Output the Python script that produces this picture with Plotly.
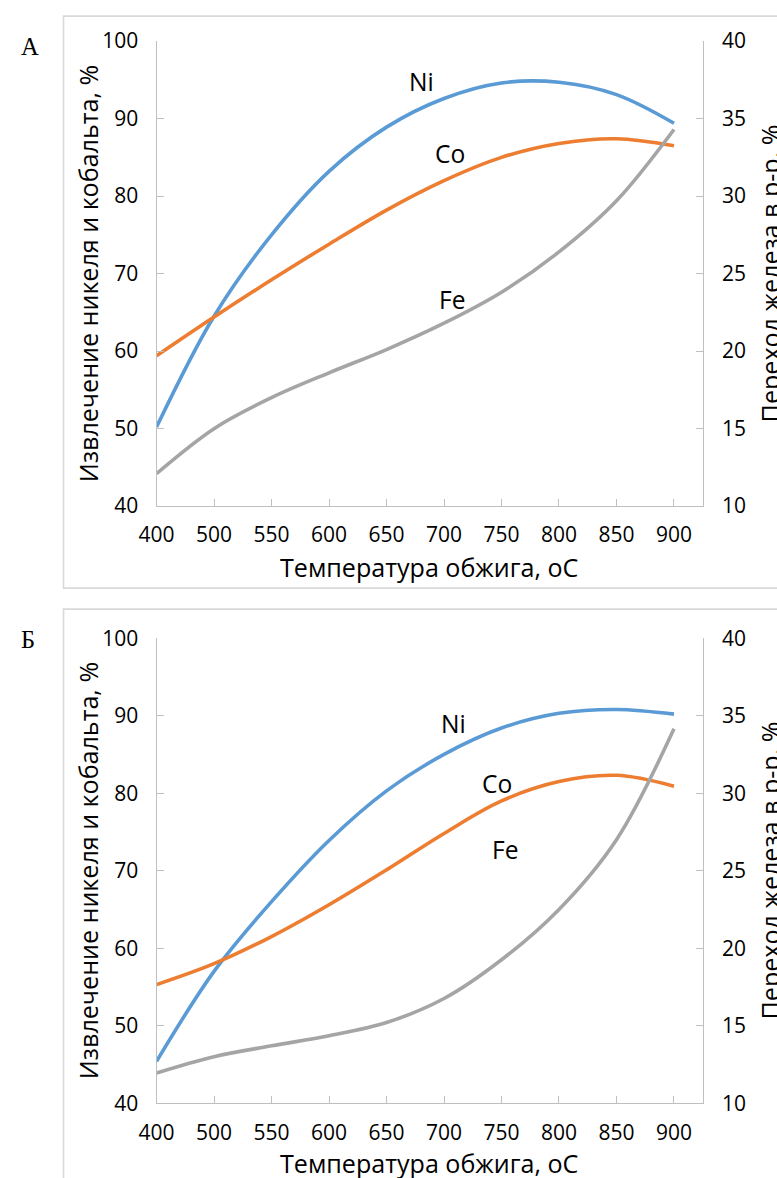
import plotly.graph_objects as go

# ---------------- data ----------------
temps = ["400", "500", "550", "600", "650", "700", "750", "800", "850", "900"]

# Panel А
ni_a = [50.2, 64.5, 75.0, 83.2, 88.9, 92.6, 94.6, 94.7, 93.1, 89.4]
co_a = [59.4, 64.4, 69.2, 73.8, 78.2, 82.0, 85.0, 86.8, 87.4, 86.5]
fe_a = [12.1, 15.0, 17.0, 18.6, 20.1, 21.8, 23.8, 26.4, 29.7, 34.3]

# Panel Б
ni_b = [45.4, 57.0, 66.0, 73.9, 80.3, 85.0, 88.4, 90.3, 90.8, 90.2]
co_b = [55.3, 58.0, 61.5, 65.6, 70.1, 74.8, 79.0, 81.5, 82.3, 80.9]
fe_b = [11.95, 13.0, 13.7, 14.35, 15.2, 16.75, 19.25, 22.5, 27.0, 34.15]

left_title = "Извлечение никеля и кобальта, %"
right_title = "Переход железа в р-р, %"
x_title = "Температура обжига, оС"

# ---------------- layout helpers ----------------
# the photographed picture shows the page slightly scaled and offset;
# positions below are given in picture pixels and converted to page pixels
S, OX, OY = 0.9765, 18.5, 13.9
W, H = 777, 1195
def px(x):
    return ((x - OX) / S) / W
def py(y):
    return 1 - ((y - OY) / S) / H
def fs(v):
    return v / S

FONT = "Open Sans"
C_NI, C_CO, C_FE = "#5B9BD5", "#ED7D31", "#A5A5A5"
AX = "#BFBFBF"
idx = list(range(len(temps)))

fig = go.Figure()

def add_panel(n, ni, co, fe):
    xa = "x" if n == 1 else "x2"
    yl = "y" if n == 1 else "y3"
    yr = "y2" if n == 1 else "y4"
    for vals, col, ya in ((ni, C_NI, yl), (co, C_CO, yl), (fe, C_FE, yr)):
        fig.add_trace(go.Scatter(x=idx, y=vals, mode="lines", xaxis=xa, yaxis=ya,
                                 line=dict(color=col, width=fs(3.5), shape="spline", smoothing=1.0),
                                 showlegend=False, hoverinfo="skip"))

add_panel(1, ni_a, co_a, fe_a)
add_panel(2, ni_b, co_b, fe_b)

xdom = [px(157), px(703)]
ydomA = [py(505), py(40)]
ydomB = [py(1102), py(637)]

tickfont = dict(family=FONT, size=fs(20.5), color="#000000")

def xaxis(anchor):
    return dict(domain=xdom, anchor=anchor, range=[0, 9.5], tickmode="array",
                tickvals=idx, ticktext=temps, ticks="inside", ticklen=7, tickcolor=AX,
                tickwidth=1.3, showline=True, linecolor=AX, linewidth=1.3,
                showgrid=False, zeroline=False, tickfont=tickfont, ticklabelstandoff=10)

def yleft(dom, anchor):
    return dict(domain=dom, anchor=anchor, range=[40, 100], tickvals=[40, 50, 60, 70, 80, 90, 100],
                ticks="inside", ticklen=7, tickcolor=AX, tickwidth=1.3, showline=True,
                linecolor=AX, linewidth=1.3, showgrid=False, zeroline=False,
                tickfont=tickfont, ticklabelstandoff=13)

def yright(dom, anchor, overlay):
    return dict(domain=dom, anchor=anchor, overlaying=overlay, side="right", range=[10, 40],
                tickvals=[10, 15, 20, 25, 30, 35, 40], ticks="inside", ticklen=7, tickcolor=AX,
                tickwidth=1.3, showline=True, linecolor=AX, linewidth=1.3, showgrid=False,
                zeroline=False, tickfont=tickfont, ticklabelstandoff=14)

fig.update_layout(
    width=W, height=H, margin=dict(l=0, r=0, t=0, b=0),
    paper_bgcolor="white", plot_bgcolor="white", showlegend=False,
    xaxis=xaxis("y"),
    yaxis=yleft(ydomA, "x"),
    yaxis2=yright(ydomA, "x", "y"),
    xaxis2=xaxis("y3"),
    yaxis3=yleft(ydomB, "x2"),
    yaxis4=yright(ydomB, "x2", "y3"),
)

# panel frames
frame = dict(color="#D9D9D9", width=1.6)
fig.add_shape(type="rect", xref="paper", yref="paper", x0=px(64), x1=px(820),
              y0=py(587), y1=py(15), line=frame, fillcolor="rgba(0,0,0,0)", layer="below")
fig.add_shape(type="rect", xref="paper", yref="paper", x0=px(64), x1=px(820),
              y0=py(1230), y1=py(608), line=frame, fillcolor="rgba(0,0,0,0)", layer="below")

def ann(text, x, y, size, angle=0, family=FONT, xanchor="center"):
    fig.add_annotation(text=text, xref="paper", yref="paper", x=px(x), y=py(y),
                       xanchor=xanchor, yanchor="middle", showarrow=False, textangle=angle,
                       font=dict(family=family, size=fs(size), color="#000000"))

# panel letters
ann("А", 19, 45, 24, family="Liberation Serif", xanchor="left")
ann("Б", 19, 638, 24, family="Liberation Serif", xanchor="left")

# axis titles
for top, bot, xt in ((40, 505, 566), (637, 1102, 1162)):
    mid = (top + bot) / 2
    ann(left_title, 88, mid, 24.5, angle=-90)
    ann(right_title, 770, mid, 24.5, angle=-90)
    ann(x_title, 430, xt, 24.5)

# series labels
ann("Ni", 422, 80, 24)
ann("Co", 450, 152, 24)
ann("Fe", 452, 298, 24)
ann("Ni", 454, 722, 24)
ann("Co", 497, 782, 24)
ann("Fe", 505, 848, 24)

fig.write_html("out.html", config={"displayModeBar": False},
               post_script="document.body.style.margin='0';document.body.style.overflow='hidden';")
